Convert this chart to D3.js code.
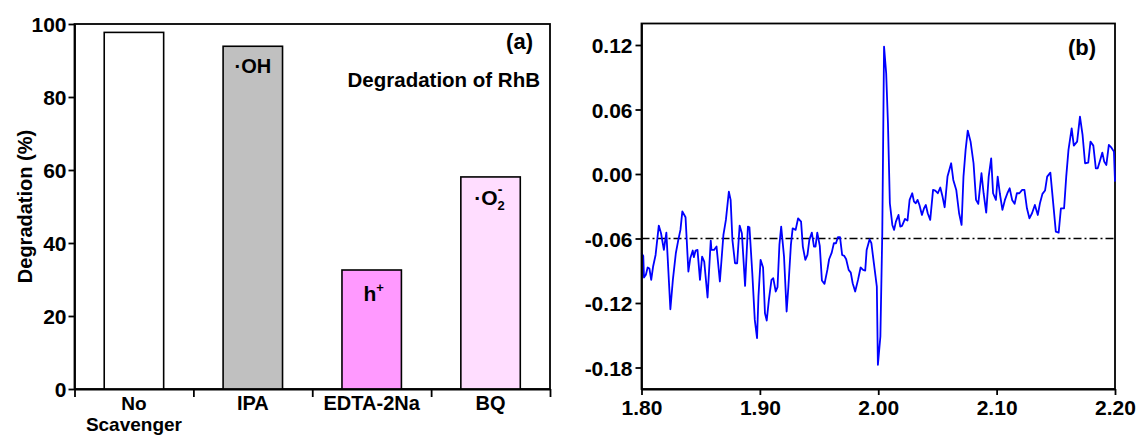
<!DOCTYPE html>
<html>
<head>
<meta charset="utf-8">
<script src="https://cdn.jsdelivr.net/npm/d3@7"></script>
<style>
  html, body { margin: 0; padding: 0; background: #fff; }
  svg { display: block; }
  text { font-family: "Liberation Sans", Arial, sans-serif; font-weight: bold; fill: #000; }
</style>
</head>
<body>
<svg id="chart" width="1136" height="435"></svg>
<script>
// ---- (a) scavenger experiment ----
const scavengers = ["No Scavenger", "IPA", "EDTA-2Na", "BQ"];
const degradation = [97.7, 93.9, 32.6, 58.1];
const barColors = ["#ffffff", "#c0c0c0", "#ff99ff", "#ffddff"];
const degTicks = [0, 20, 40, 60, 80, 100];

// ---- (b) EPR spectrum ----
const gValues = [
  1.8000,1.8015,1.8021,1.8037,1.8052,1.8067,1.8082,1.8098,1.8119,1.8146,
  1.8165,1.8189,1.8210,1.8244,1.8265,1.8290,1.8311,1.8329,1.8345,1.8372,
  1.8396,1.8412,1.8433,1.8442,1.8457,1.8473,1.8494,1.8512,1.8530,1.8558,
  1.8585,1.8591,1.8613,1.8634,1.8662,1.8692,1.8713,1.8738,1.8753,1.8768,
  1.8790,1.8808,1.8829,1.8848,1.8875,1.8899,1.8912,1.8936,1.8957,1.8976,
  1.8988,1.9006,1.9027,1.9043,1.9058,1.9076,1.9098,1.9113,1.9134,1.9149,
  1.9165,1.9180,1.9204,1.9226,1.9241,1.9262,1.9277,1.9302,1.9323,1.9348,
  1.9363,1.9384,1.9402,1.9418,1.9439,1.9457,1.9470,1.9485,1.9506,1.9524,
  1.9546,1.9570,1.9585,1.9607,1.9625,1.9643,1.9659,1.9677,1.9695,1.9713,
  1.9729,1.9750,1.9768,1.9784,1.9805,1.9829,1.9851,1.9872,1.9890,1.9902,
  1.9927,1.9942,1.9963,1.9988,1.9997,2.0018,2.0034,2.0049,2.0067,2.0082,
  2.0098,2.0119,2.0134,2.0149,2.0171,2.0186,2.0201,2.0226,2.0247,2.0265,
  2.0287,2.0302,2.0317,2.0332,2.0348,2.0369,2.0387,2.0402,2.0418,2.0439,
  2.0463,2.0482,2.0503,2.0524,2.0543,2.0561,2.0585,2.0616,2.0634,2.0659,
  2.0683,2.0704,2.0720,2.0738,2.0756,2.0780,2.0805,2.0826,2.0845,2.0872,
  2.0890,2.0912,2.0933,2.0954,2.0970,2.0994,2.1009,2.1027,2.1049,2.1070,
  2.1091,2.1110,2.1131,2.1152,2.1171,2.1192,2.1216,2.1235,2.1256,2.1277,
  2.1299,2.1323,2.1348,2.1366,2.1387,2.1409,2.1427,2.1454,2.1482,2.1500,
  2.1524,2.1543,2.1570,2.1588,2.1607,2.1634,2.1652,2.1680,2.1704,2.1726,
  2.1747,2.1774,2.1793,2.1817,2.1838,2.1854,2.1875,2.1893,2.1909,2.1927,
  2.1948,2.1970,2.1991,2.2000
];
const signal = [
  -0.0737,-0.0762,-0.0963,-0.0938,-0.0870,-0.0880,-0.0985,-0.0861,-0.0753,-0.0480,
  -0.0551,-0.0706,-0.0545,-0.1258,-0.0985,-0.0737,-0.0613,-0.0520,-0.0347,-0.0402,
  -0.0907,-0.0784,-0.0712,-0.0774,-0.0712,-0.0706,-0.0985,-0.0768,-0.0815,-0.1149,
  -0.0619,-0.0706,-0.0706,-0.0675,-0.1000,-0.0567,-0.0427,-0.0164,-0.0241,-0.0613,
  -0.0830,-0.0830,-0.0480,-0.0551,-0.1041,-0.0489,-0.0495,-0.0923,-0.1357,-0.1527,
  -0.1140,-0.0799,-0.0870,-0.1295,-0.1363,-0.1171,-0.0985,-0.0969,-0.1093,-0.1053,
  -0.0660,-0.0489,-0.0768,-0.1279,-0.1047,-0.0660,-0.0505,-0.0520,-0.0412,-0.0443,
  -0.0675,-0.0799,-0.0753,-0.0613,-0.0545,-0.0675,-0.0675,-0.0545,-0.0669,-0.0991,
  -0.1022,-0.0892,-0.0793,-0.0731,-0.0644,-0.0644,-0.0588,-0.0588,-0.0753,-0.0762,
  -0.0793,-0.0892,-0.0917,-0.1016,-0.1093,-0.0985,-0.0870,-0.0892,-0.0898,-0.0706,
  -0.0607,-0.0644,-0.0830,-0.1047,-0.1775,-0.1512,-0.0551,0.1185,0.0937,0.0472,
  -0.0272,-0.0474,-0.0520,-0.0443,-0.0381,-0.0489,-0.0483,-0.0418,-0.0433,-0.0241,
  -0.0179,-0.0257,-0.0272,-0.0241,-0.0288,-0.0381,-0.0319,-0.0288,-0.0365,-0.0427,
  -0.0148,-0.0154,-0.0179,-0.0126,-0.0210,-0.0309,-0.0024,0.0100,-0.0055,-0.0148,
  -0.0365,-0.0474,-0.0024,0.0224,0.0404,0.0301,0.0100,-0.0241,-0.0278,0.0007,
  -0.0179,-0.0359,-0.0024,0.0146,-0.0179,-0.0241,-0.0024,-0.0179,-0.0334,-0.0241,
  -0.0179,-0.0133,-0.0241,-0.0278,-0.0179,-0.0179,-0.0148,-0.0148,-0.0319,-0.0412,
  -0.0365,-0.0288,-0.0381,-0.0272,-0.0185,-0.0154,-0.0024,0.0013,-0.0319,-0.0536,
  -0.0545,-0.0319,-0.0319,-0.0024,0.0224,0.0425,0.0264,0.0301,0.0534,0.0363,
  0.0100,0.0106,0.0301,0.0264,0.0053,0.0053,0.0131,0.0199,0.0115,0.0084,
  0.0270,0.0245,0.0208,-0.0071
];
const baseline = -0.06;
const gTicks = [1.80, 1.90, 2.00, 2.10, 2.20];
const signalTicks = [-0.18, -0.12, -0.06, 0.00, 0.06, 0.12];

const svg = d3.select("#chart");
const fmt2 = v => v.toFixed(2);

function styleAxis(g, size) {
  g.select(".domain").attr("stroke", "#000").attr("stroke-width", 1.8);
  g.selectAll(".tick line").attr("stroke", "#000").attr("stroke-width", 1.8);
  g.selectAll(".tick text")
    .attr("font-size", size)
    .attr("font-family", '"Liberation Sans", Arial, sans-serif')
    .attr("font-weight", "bold")
    .attr("fill", "#000");
}

// ================= panel (a) =================
const A = { x0: 74.5, x1: 550, y0: 24, y1: 389 };
const xBand = d3.scaleBand().domain(scavengers).range([A.x0, A.x1])
  .paddingInner(0.5).paddingOuter(0.25);
const yDeg = d3.scaleLinear().domain([0, 100]).range([A.y1, A.y0]);
const xEdges = d3.scaleLinear().domain([0, scavengers.length]).range([A.x0, A.x1]);

const pa = svg.append("g");

// frame
pa.append("rect")
  .attr("x", A.x0).attr("y", A.y0)
  .attr("width", A.x1 - A.x0).attr("height", A.y1 - A.y0)
  .attr("fill", "none").attr("stroke", "#000").attr("stroke-width", 1.8);

// bars
pa.selectAll("rect.bar")
  .data(scavengers)
  .join("rect")
  .attr("class", "bar")
  .attr("x", d => xBand(d))
  .attr("y", (d, i) => yDeg(degradation[i]))
  .attr("width", xBand.bandwidth())
  .attr("height", (d, i) => yDeg(0) - yDeg(degradation[i]))
  .attr("fill", (d, i) => barColors[i])
  .attr("stroke", "#000")
  .attr("stroke-width", 1.6);

// y axis
const ayA = pa.append("g")
  .attr("transform", `translate(${A.x0},0)`)
  .call(d3.axisLeft(yDeg).tickValues(degTicks).tickSize(6).tickPadding(2).tickSizeOuter(0));
styleAxis(ayA, 21);
ayA.selectAll(".tick text").attr("dy", "0.36em");

// x axis: tick marks at category boundaries
const axA = pa.append("g")
  .attr("transform", `translate(0,${A.y1})`)
  .call(d3.axisBottom(xEdges).ticks(scavengers.length).tickFormat("").tickSize(8).tickSizeOuter(0));
styleAxis(axA, 20);

// category labels (the first one wraps onto two lines)
const catLabels = pa.append("g");
scavengers.forEach(name => {
  const words = name === "No Scavenger" ? ["No", "Scavenger"] : [name];
  words.forEach((w, k) => {
    catLabels.append("text")
      .attr("text-anchor", "middle")
      .attr("font-size", words.length > 1 ? 19 : 20)
      .attr("x", xBand(name) + xBand.bandwidth() / 2)
      .attr("y", k === 0 ? 410 : 431)
      .text(w);
  });
});

// y title
pa.append("text")
  .attr("transform", `translate(32,${(A.y0 + A.y1) / 2}) rotate(-90)`)
  .attr("text-anchor", "middle")
  .attr("font-size", 20)
  .text("Degradation (%)");

// species labels inside bars
const cx = name => xBand(name) + xBand.bandwidth() / 2;
const ohLabel = pa.append("text").attr("text-anchor", "middle").attr("font-size", 20)
  .attr("x", cx("IPA")).attr("y", yDeg(degradation[1]) + 27);
ohLabel.append("tspan").text("\u00B7OH");

const hLabel = pa.append("text").attr("text-anchor", "middle").attr("font-size", 21)
  .attr("x", cx("EDTA-2Na") + 2).attr("y", yDeg(degradation[2]) + 31);
hLabel.append("tspan").text("h");
hLabel.append("tspan").attr("font-size", 13).attr("dy", -9).text("+");

const o2Label = pa.append("text").attr("text-anchor", "middle").attr("font-size", 21)
  .attr("x", cx("BQ") - 1).attr("y", yDeg(degradation[3]) + 28);
o2Label.append("tspan").text("\u00B7O");
o2Label.append("tspan").attr("font-size", 13).attr("dy", 5).text("2");
o2Label.append("tspan").attr("font-size", 14).attr("dx", -7).attr("dy", -16).text("-");

pa.append("text").attr("text-anchor", "end").attr("font-size", 22)
  .attr("x", 533).attr("y", 49).text("(a)");
pa.append("text").attr("text-anchor", "end").attr("font-size", 20.5)
  .attr("x", 540).attr("y", 87).text("Degradation of RhB");

// ================= panel (b) =================
const B = { x0: 641.5, x1: 1115, y0: 23.5, y1: 389 };
const xG = d3.scaleLinear().domain([1.8, 2.2]).range([B.x0, B.x1]);
const yS = d3.scaleLinear().domain([-0.2, 0.14]).range([B.y1, B.y0]);

const pb = svg.append("g");

pb.append("rect")
  .attr("x", B.x0).attr("y", B.y0)
  .attr("width", B.x1 - B.x0).attr("height", B.y1 - B.y0)
  .attr("fill", "none").attr("stroke", "#000").attr("stroke-width", 1.8);

// reference level
pb.append("line")
  .attr("x1", xG(1.8)).attr("x2", xG(2.2))
  .attr("y1", yS(baseline)).attr("y2", yS(baseline))
  .attr("stroke", "#000").attr("stroke-width", 1.6)
  .attr("stroke-dasharray", "8,3,2,3");

// spectrum
const pts = gValues.map((g, i) => [g, signal[i]]);
pb.append("path")
  .datum(pts)
  .attr("fill", "none")
  .attr("stroke", "#0000ff")
  .attr("stroke-width", 1.8)
  .attr("stroke-linejoin", "round")
  .attr("d", d3.line().x(d => xG(d[0])).y(d => yS(d[1])));

const ayB = pb.append("g")
  .attr("transform", `translate(${B.x0},0)`)
  .call(d3.axisLeft(yS).tickValues(signalTicks).tickFormat(fmt2).tickSize(6).tickPadding(3).tickSizeOuter(0));
styleAxis(ayB, 21);
ayB.selectAll(".tick text").attr("dy", "0.36em");

const axB = pb.append("g")
  .attr("transform", `translate(0,${B.y1})`)
  .call(d3.axisBottom(xG).tickValues(gTicks).tickFormat(fmt2).tickSize(6).tickPadding(4).tickSizeOuter(0));
styleAxis(axB, 21);
axB.selectAll(".tick text").attr("dy", 0).attr("y", 26);

pb.append("text").attr("text-anchor", "end").attr("font-size", 22)
  .attr("x", 1096).attr("y", 55).text("(b)");
</script>
</body>
</html>
